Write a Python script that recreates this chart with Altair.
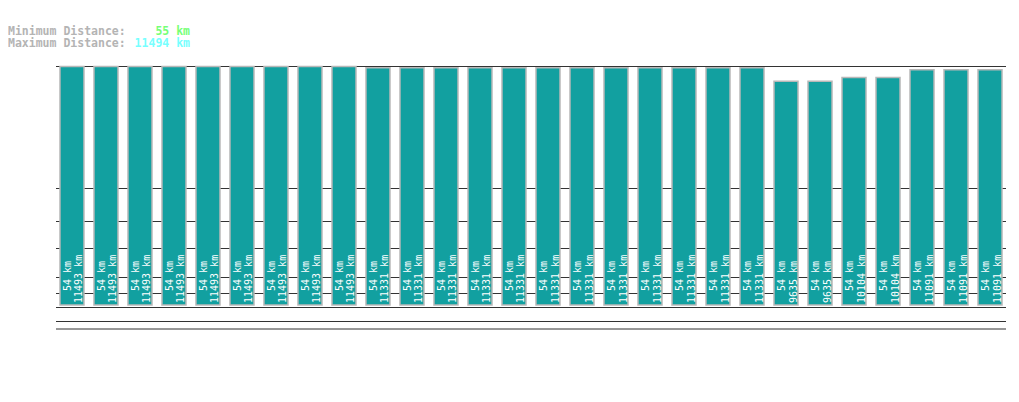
import altair as alt
import pandas as pd

# ---- data ----
route = [f"Route {i}" for i in range(1, 29)]
min_km = [54] * 28
max_km = [11493] * 9 + [11331] * 12 + [9635] * 2 + [10104] * 2 + [11091] * 3
header_labels = ["Minimum Distance:", "Maximum Distance:"]
header_values = ["55 km", "11494 km"]
header_colors = ["#77ff77", "#77ffff"]

# ---- styling / geometry ----
W, H = 950, 263
Y_HI, Y_LO, Y_BASE = 11556, -21459, -18447
grid_px = [0.5, 122.5, 155.5, 182.5, 211.5, 227.5]
base_px = [241.5, 255.5, 263]
LINE = "#333333"

df = pd.DataFrame({
    "route": route,
    "min_km": min_km,
    "max_km": max_km,
})
df["min_label"] = df["min_km"].astype(str) + " km"
df["max_label"] = df["max_km"].astype(str) + " km"

xenc = alt.X("route:N", sort=None, axis=None,
             scale=alt.Scale(paddingInner=0.294, paddingOuter=0.117))
yscale = alt.Scale(domain=[Y_LO, Y_HI], nice=False, zero=False)

dummy = alt.Data(values=[{}])

def hline(py):
    return alt.Chart(dummy).mark_rule(color=LINE, strokeWidth=1).encode(
        x=alt.value(0), x2=alt.value(W), y=alt.value(py))

grid = [hline(p) for p in grid_px]
bottom = [hline(p) for p in base_px]

base = alt.Chart(df)

bars = base.mark_bar(fill="#12a0a0", stroke="#b8b8b8", strokeWidth=1.5).encode(
    x=xenc,
    y=alt.Y("max_km:Q", scale=yscale, axis=None),
    y2=alt.datum(Y_BASE),
)

txt_common = dict(angle=270, align="left", baseline="alphabetic",
                  font="DejaVu Sans Mono", fontSize=10, color="white")

max_txt = base.mark_text(dx=2, dy=10.5, **txt_common).encode(
    x=xenc, y=alt.datum(Y_BASE), text="max_label:N")
min_txt = base.mark_text(dx=14, dy=-1, **txt_common).encode(
    x=xenc, y=alt.datum(Y_BASE), text="min_label:N")

hdr_df = pd.DataFrame({
    "label": header_labels,
    "value": header_values,
    "color": header_colors,
    "py": [-31, -19.5],
})
hdr = []
for i in range(len(header_labels)):
    row = hdr_df.iloc[[i]]
    hdr.append(alt.Chart(row).mark_text(
        align="left", baseline="alphabetic", font="DejaVu Sans Mono",
        fontSize=11.5, fontWeight="bold", color="#b4b4b4").encode(
        x=alt.value(-48), y=alt.value(float(row["py"].iloc[0])), text="label:N"))
    hdr.append(alt.Chart(row).mark_text(
        align="right", baseline="alphabetic", font="DejaVu Sans Mono",
        fontSize=11.5, fontWeight="bold", color=header_colors[i]).encode(
        x=alt.value(134), y=alt.value(float(row["py"].iloc[0])), text="value:N"))

chart = alt.layer(*grid, bars, max_txt, min_txt, *bottom, *hdr).properties(
    width=W, height=H,
    autosize=alt.AutoSizeParams(type="none"),
    padding={"left": 48, "top": 58, "right": 4, "bottom": 64},
    background="white",
).configure_view(stroke=None)

chart.save("out.html", embed_options={"renderer": "svg", "actions": False})
